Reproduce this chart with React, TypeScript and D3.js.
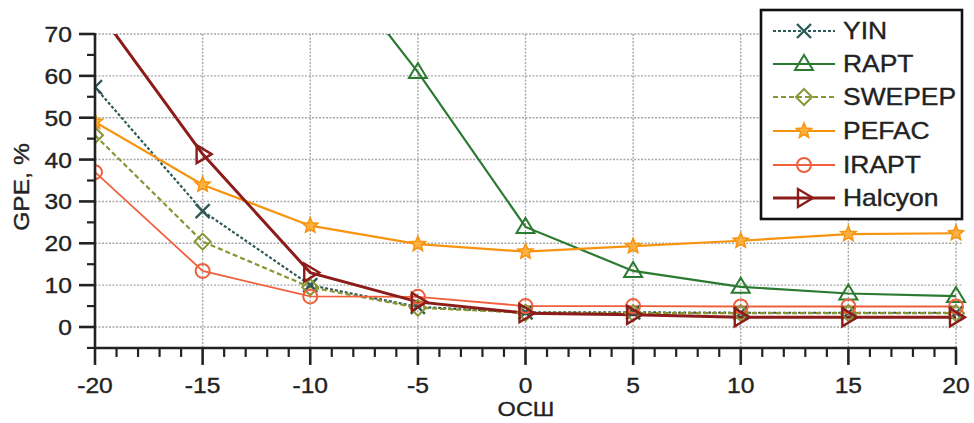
import React from "react";
import * as d3 from "d3";

const snr = [-20, -15, -10, -5, 0, 5, 10, 15, 20];
const yinVals = [57.3, 27.7, 10, 4.8, 3.5, 3.5, 3.4, 3.4, 3.4];
const raptVals = [100, 99, 94, 60.9, 23.9, 13.4, 9.6, 8.0, 7.4];
const swepepVals = [45.8, 20.4, 9.5, 4.6, 3.4, 3.3, 3.3, 3.3, 3.3];
const pefacVals = [49, 34, 24.2, 19.8, 18.0, 19.3, 20.6, 22.2, 22.4];
const iraptVals = [37, 13.4, 7.3, 7.2, 5.0, 5.0, 4.9, 4.9, 4.9];
const halcyonVals = [76.6, 41.3, 13, 6.0, 3.3, 2.9, 2.3, 2.3, 2.3];
const seriesNames = ["YIN", "RAPT", "SWEPEP", "PEFAC", "IRAPT", "Halcyon"];
const xTicks = [-20, -15, -10, -5, 0, 5, 10, 15, 20];
const yTicks = [0, 10, 20, 30, 40, 50, 60, 70];

type Style = { color: string; width: number; dash?: string; marker: string };
const styles: Style[] = [
  { color: "#2e5a57", width: 2.2, dash: "3,2", marker: "x" },
  { color: "#2a7a30", width: 2.2, marker: "tri" },
  { color: "#8a9635", width: 2.2, dash: "5,3", marker: "diamond" },
  { color: "#f7940f", width: 2.2, marker: "star" },
  { color: "#f0603c", width: 1.8, marker: "circle" },
  { color: "#8c1c1a", width: 3, marker: "triR" },
];
const allVals = [yinVals, raptVals, swepepVals, pefacVals, iraptVals, halcyonVals];

const FONT = "'Liberation Sans', Arial, sans-serif";

function Marker({ kind, x, y, color }: { kind: string; x: number; y: number; color: string }) {
  const sw = 2;
  if (kind === "x") {
    const s = 7;
    return (
      <path d={`M${x - s},${y - s}L${x + s},${y + s}M${x - s},${y + s}L${x + s},${y - s}`} stroke={color} strokeWidth={2.4} fill="none" />
    );
  }
  if (kind === "tri") {
    return <path d={`M${x},${y - 9}L${x + 9},${y + 6}L${x - 9},${y + 6}Z`} stroke={color} strokeWidth={sw} fill="none" />;
  }
  if (kind === "triR") {
    return <path d={`M${x + 9},${y}L${x - 6},${y - 9}L${x - 6},${y + 9}Z`} stroke={color} strokeWidth={2.4} fill="none" />;
  }
  if (kind === "diamond") {
    return <path d={`M${x},${y - 8}L${x + 8},${y}L${x},${y + 8}L${x - 8},${y}Z`} stroke={color} strokeWidth={sw} fill="none" />;
  }
  if (kind === "circle") {
    return <circle cx={x} cy={y} r={7} stroke={color} strokeWidth={sw} fill="none" />;
  }
  const pts: string[] = [];
  for (let i = 0; i < 10; i++) {
    const r = i % 2 === 0 ? 8 : 3.6;
    const a = -Math.PI / 2 + (i * Math.PI) / 5;
    pts.push(`${x + r * Math.cos(a)},${y + r * Math.sin(a)}`);
  }
  return <polygon points={pts.join(" ")} stroke={color} strokeWidth={1.5} fill="#fbb040" />;
}

function T({ x, y, anchor, size, sx, children, rotate }: any) {
  const s = sx || 1.12;
  const tr = rotate
    ? `translate(${x},${y}) rotate(${rotate}) scale(${s},1)`
    : `translate(${x},${y}) scale(${s},1)`;
  return (
    <text transform={tr} textAnchor={anchor || "start"} fontFamily={FONT} fontSize={size} fill="#222" stroke="#222" strokeWidth={0.35}>
      {children}
    </text>
  );
}

export default function App() {
  const left = 95, right = 956, top = 34;
  const x = d3.scaleLinear().domain([-20, 20]).range([left, right]);
  const y = d3.scaleLinear().domain([0, 70]).range([327, top]);
  const axisY = y(-5);
  const line = d3.line<number>().x((_, i) => x(snr[i])).y((v) => y(v));

  const minorX = d3.range(-20, 21, 1).filter((v) => v % 5 !== 0);
  const minorY = d3.range(-5, 71, 5).filter((v) => v % 10 !== 0);

  const legX = 761, legY = 10, legW = 201, legH = 209;
  const rowY = [31, 64, 97, 131, 165, 198];

  return (
    <svg width={974} height={423} style={{ position: "absolute", left: 0, top: 0, background: "#fff" }}>
      <defs>
        <clipPath id="plot">
          <rect x={left} y={top} width={970 - left} height={axisY - top} />
        </clipPath>
      </defs>
      <g stroke="#a8a8a8" strokeWidth={1.4} strokeDasharray="2,1.5">
        {yTicks.map((t) => (
          <line key={"gy" + t} x1={left} x2={962} y1={y(t)} y2={y(t)} />
        ))}
        {xTicks.slice(1).map((t) => (
          <line key={"gx" + t} x1={x(t)} x2={x(t)} y1={top} y2={axisY} />
        ))}
      </g>
      <g clipPath="url(#plot)">
        {allVals.map((vals, si) => (
          <path
            key={"l" + si}
            d={line(vals) || ""}
            fill="none"
            stroke={styles[si].color}
            strokeWidth={styles[si].width}
            strokeDasharray={styles[si].dash}
          />
        ))}
        {allVals.map((vals, si) =>
          vals.map((v, i) =>
            v <= 72 ? <Marker key={`m${si}-${i}`} kind={styles[si].marker} x={x(snr[i])} y={y(v)} color={styles[si].color} /> : null
          )
        )}
      </g>
      <g stroke="#222" strokeWidth={2.6}>
        <line x1={left} x2={left} y1={top - 1} y2={axisY} />
        <line x1={left - 1} x2={right + 1} y1={axisY} y2={axisY} />
        {yTicks.map((t) => (
          <line key={"ty" + t} x1={left - 16} x2={left} y1={y(t)} y2={y(t)} />
        ))}
        {minorY.map((t) => (
          <line key={"my" + t} x1={left - 8} x2={left} y1={y(t)} y2={y(t)} strokeWidth={2.2} />
        ))}
        {xTicks.map((t) => (
          <line key={"tx" + t} x1={x(t)} x2={x(t)} y1={axisY} y2={axisY + 17} />
        ))}
        {minorX.map((t) => (
          <line key={"mx" + t} x1={x(t)} x2={x(t)} y1={axisY} y2={axisY + 9} strokeWidth={2.2} />
        ))}
      </g>
      {yTicks.map((t) => (
        <T key={"yl" + t} x={72} y={y(t) + 8} anchor="end" size={22}>
          {t}
        </T>
      ))}
      {xTicks.map((t) => (
        <T key={"xl" + t} x={x(t)} y={393} anchor="middle" size={22}>
          {t}
        </T>
      ))}
      <T x={29} y={187} anchor="middle" size={22} rotate={-90}>
        GPE, %
      </T>
      <T x={526} y={416} anchor="middle" size={21}>
        ОСШ
      </T>
      <rect x={legX} y={legY} width={legW} height={legH} fill="#fff" stroke="#111" strokeWidth={2.6} />
      {seriesNames.map((n, i) => (
        <g key={"lg" + n}>
          <line x1={773} x2={835} y1={rowY[i]} y2={rowY[i]} stroke={styles[i].color} strokeWidth={styles[i].width} strokeDasharray={styles[i].dash} />
          <Marker kind={styles[i].marker} x={804} y={rowY[i]} color={styles[i].color} />
          <T x={843} y={rowY[i] + 8} size={23} sx={1.15}>
            {n}
          </T>
        </g>
      ))}
    </svg>
  );
}
